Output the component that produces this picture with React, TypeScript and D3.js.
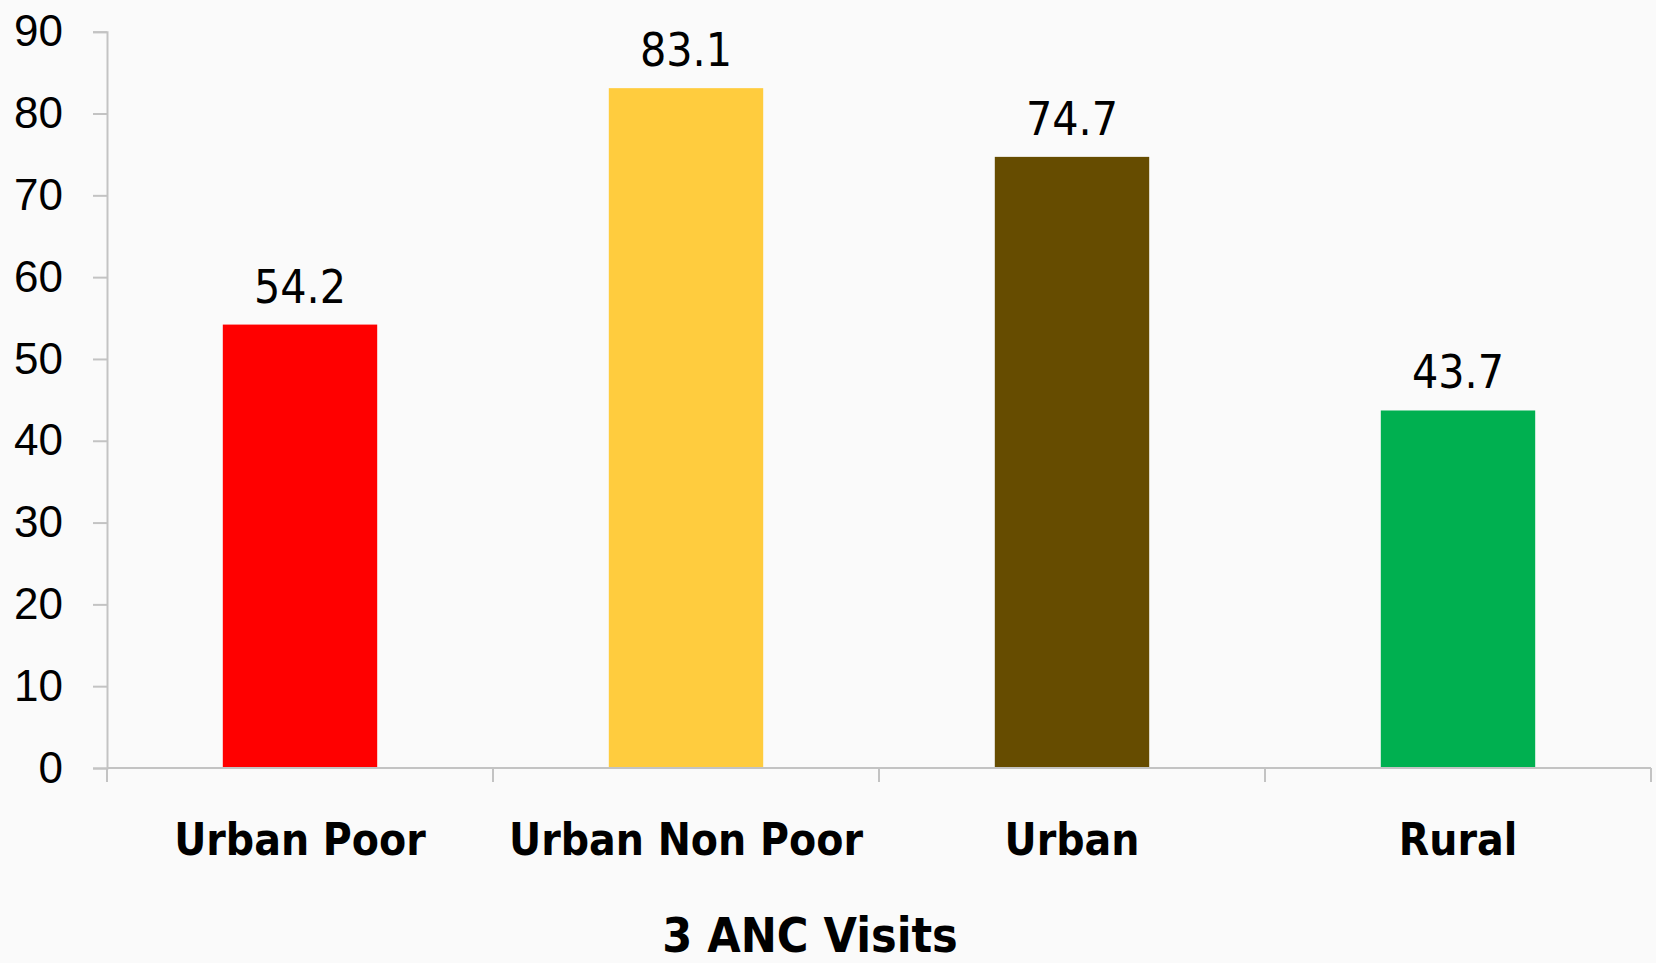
import { useEffect, useRef } from 'react';
import * as d3 from 'd3';

const categories = ['Urban Poor', 'Urban Non Poor', 'Urban', 'Rural'];
const values = [54.2, 83.1, 74.7, 43.7];
const barColors = ['#ff0000', '#ffcc3e', '#664c00', '#00b050'];
const yTicks = [0, 10, 20, 30, 40, 50, 60, 70, 80, 90];
const title = '3 ANC Visits';

export default function App() {
    const svgRef = useRef<SVGSVGElement>(null);

    useEffect(() => {
        if (!svgRef.current) return;
        const width = 1656;
        const height = 963;
        const left = 107;
        const right = 1651;
        const top = 31.7;
        const bottom = 768;
        const axisColor = '#c3c3c3';

        const svg = d3.select(svgRef.current);
        svg.selectAll('*').remove();
        svg.attr('viewBox', `0 0 ${width} ${height}`);

        svg.append('rect')
            .attr('width', width)
            .attr('height', height)
            .attr('fill', '#fafafa');

        const x = d3.scaleBand<string>()
            .domain(categories)
            .range([left, right])
            .paddingInner(0.6)
            .paddingOuter(0.3);

        const y = d3.scaleLinear()
            .domain([0, 90])
            .range([bottom, top]);

        const step = x.step();

        // Bars
        svg.selectAll('rect.bar')
            .data(categories)
            .enter()
            .append('rect')
            .attr('class', 'bar')
            .attr('x', d => x(d) || 0)
            .attr('y', (_, i) => y(values[i]))
            .attr('width', x.bandwidth())
            .attr('height', (_, i) => bottom - y(values[i]))
            .attr('fill', (_, i) => barColors[i]);

        // Y axis
        const yAxis = d3.axisLeft(y)
            .tickValues(yTicks)
            .tickSize(14)
            .tickPadding(30)
            .tickFormat(d => String(d));
        const gy = svg.append('g')
            .attr('transform', `translate(${left},0)`)
            .call(yAxis);
        gy.select('.domain').attr('stroke', axisColor).attr('stroke-width', 2);
        gy.selectAll('.tick line').attr('stroke', axisColor).attr('stroke-width', 2);
        gy.selectAll('.tick text')
            .attr('fill', '#000')
            .style('font-family', '"Liberation Sans", Arial, sans-serif')
            .style('font-size', '44px');

        // X axis line and category separators
        svg.append('line')
            .attr('x1', left)
            .attr('x2', right)
            .attr('y1', bottom)
            .attr('y2', bottom)
            .attr('stroke', axisColor)
            .attr('stroke-width', 2);

        const boundaries = d3.range(categories.length + 1).map(i => left + i * step);
        svg.selectAll('line.xtick')
            .data(boundaries)
            .enter()
            .append('line')
            .attr('class', 'xtick')
            .attr('x1', d => d)
            .attr('x2', d => d)
            .attr('y1', bottom)
            .attr('y2', bottom + 14)
            .attr('stroke', axisColor)
            .attr('stroke-width', 2);

        // Category labels
        svg.selectAll('text.cat')
            .data(categories)
            .enter()
            .append('text')
            .attr('class', 'cat')
            .attr('x', d => (x(d) || 0) + x.bandwidth() / 2)
            .attr('y', 855)
            .attr('text-anchor', 'middle')
            .style('font-family', '"DejaVu Sans Condensed", "DejaVu Sans", sans-serif')
            .style('font-weight', 'bold')
            .style('font-size', '44px')
            .attr('fill', '#000')
            .text(d => d);

        // Value labels
        svg.selectAll('text.value')
            .data(categories)
            .enter()
            .append('text')
            .attr('class', 'value')
            .attr('x', d => (x(d) || 0) + x.bandwidth() / 2)
            .attr('y', (_, i) => y(values[i]) - 22)
            .attr('text-anchor', 'middle')
            .style('font-family', '"DejaVu Sans Condensed", "DejaVu Sans", sans-serif')
            .style('font-size', '46px')
            .attr('fill', '#000')
            .text((_, i) => values[i].toFixed(1));

        // Title
        svg.append('text')
            .attr('x', 810)
            .attr('y', 952)
            .attr('text-anchor', 'middle')
            .style('font-family', '"DejaVu Sans Condensed", "DejaVu Sans", sans-serif')
            .style('font-weight', 'bold')
            .style('font-size', '48px')
            .attr('fill', '#000')
            .text(title);
    }, []);

    return (
        <svg
            ref={svgRef}
            width={1656}
            height={963}
            style={{ position: 'absolute', left: 0, top: 0, display: 'block' }}
        />
    );
}
